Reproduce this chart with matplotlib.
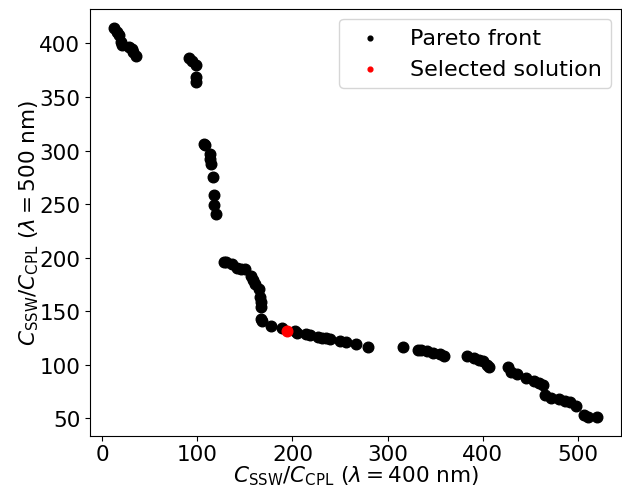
import numpy as np
import matplotlib.pyplot as plt

# Pareto front values
pareto_x = [12.6, 16, 17.9, 19.6, 20.6, 28.4, 31, 32.9, 35.4,
            91.4, 94, 98.3, 99, 99,
            107, 108, 113, 113.4, 114, 116.6, 117.6, 117.6, 119.4,
            128, 130, 136, 142, 145.6, 150, 156, 158.9, 161, 165, 166, 166.8, 166.8,
            166.8, 168.4, 178, 188.6, 202.7, 205, 214, 218, 227, 231.5, 235, 239,
            249.6, 256.6, 266.4, 279.7, 316.5, 332.3, 334.9, 341.9, 347.8, 354.8, 359,
            383.7, 390.8, 396, 400.2, 404.8, 406.5,
            426.8, 429.3, 436.3, 446, 453.8, 459, 463.2,
            465.3, 472.3, 480, 486, 492.2, 498.2, 506.9, 510.4, 520]
pareto_y = [414, 411, 408, 401.6, 398.5, 397, 395, 392, 388,
            386, 383.5, 380, 369, 364,
            306.5, 305, 297, 292.5, 287, 275, 258.7, 248.8, 240.5,
            196, 195.6, 194, 190.6, 189.7, 189, 182.6, 178.9, 175, 170.4, 163.3, 158.6, 154,
            143, 140.5, 136, 134.3, 131.3, 130, 128.5, 127.5, 126, 125.2, 125, 124.3,
            122.7, 121.2, 119, 117, 116.4, 114, 113.8, 112.5, 111.2, 109.9, 108.2,
            108.5, 106.5, 104.7, 104, 99.5, 98,
            98, 93.2, 91.1, 87.6, 84.8, 83.2, 81.4,
            71.4, 69, 68.3, 66.4, 65.2, 62, 53.3, 51.7, 51.7]

selected_x = [194.6]
selected_y = [132]

plt.rcParams["font.size"] = 15.5

fig = plt.figure(figsize=(6.22, 4.89), dpi=100)
ax = fig.add_axes([0.1447, 0.1063, 0.8537, 0.8733])

ax.scatter(pareto_x, pareto_y, s=58, color="black", label="Pareto front")
ax.scatter(selected_x, selected_y, s=58, color="red", label="Selected solution")

ax.set_xlabel(r"$C_{\rm SSW}/C_{\rm CPL}$ ($\lambda = 400$ nm)", labelpad=-1)
ax.set_ylabel(r"$C_{\rm SSW}/C_{\rm CPL}$ ($\lambda = 500$ nm)", labelpad=-1)
ax.tick_params(axis="x", pad=2.5)
ax.set_xticks([0, 100, 200, 300, 400, 500])
ax.set_yticks([50, 100, 150, 200, 250, 300, 350, 400])
ax.legend(loc="upper right", markerscale=0.45, borderaxespad=0.45, fontsize=16)

fig.savefig("out.png", dpi=100)
